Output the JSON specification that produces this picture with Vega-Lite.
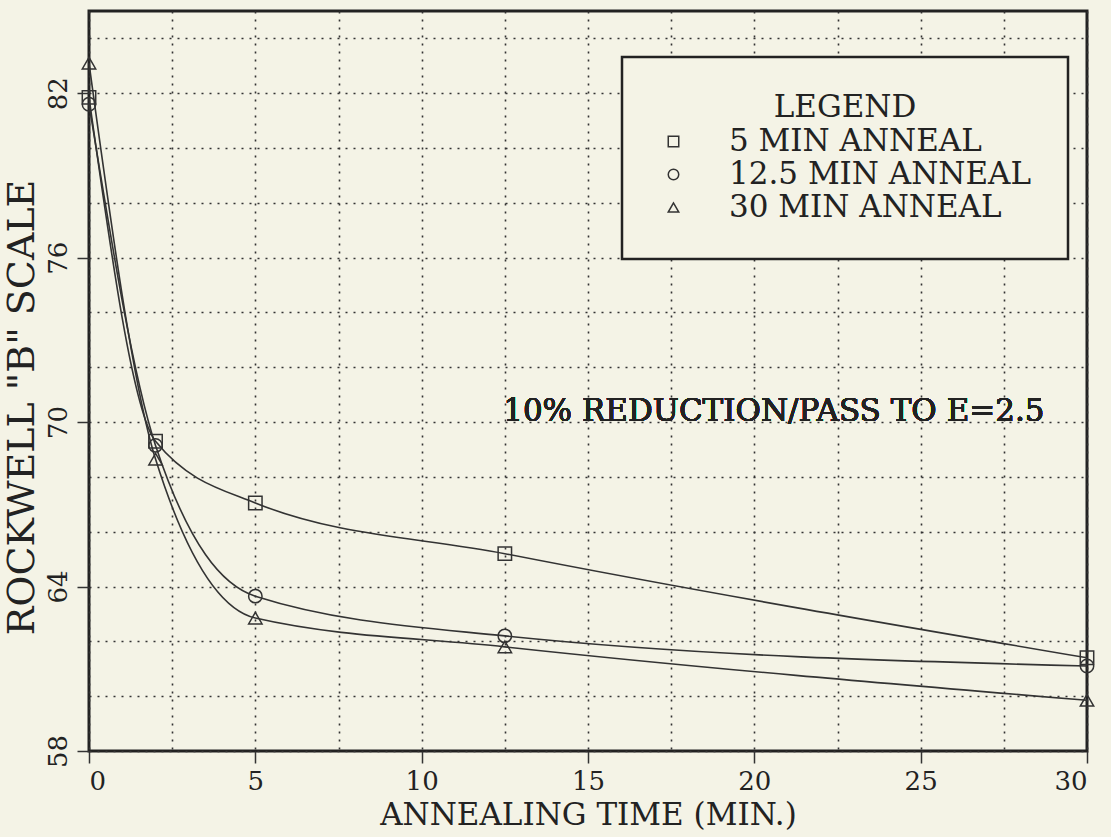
{
  "$schema": "https://vega.github.io/schema/vega-lite/v6.json",
  "width": 998,
  "height": 740,
  "autosize": "none",
  "padding": {"left": 89, "top": 11, "right": 24, "bottom": 86},
  "background": "#f4f3e6",
  "config": {
    "view": {"stroke": "#222", "strokeWidth": 3},
    "font": "DejaVu Serif",
    "axis": {
      "domain": false,
      "gridColor": "#333",
      "gridDash": [2, 6],
      "gridWidth": 1.6,
      "tickColor": "#333",
      "tickWidth": 1.5,
      "tickSize": 12,
      "labelFont": "DejaVu Serif",
      "labelColor": "#222",
      "titleFont": "DejaVu Serif",
      "titleFontWeight": "normal",
      "titleColor": "#222"
    },
    "legend": {
      "orient": "none",
      "legendX": 533,
      "legendY": 46,
      "strokeColor": "#222",
      "strokeWidth": 2.5,
      "fillColor": "#f4f3e6",
      "padding": 36,
      "titleFont": "DejaVu Serif",
      "titleFontSize": 31,
      "titleFontWeight": "normal",
      "titleColor": "#222",
      "titleAnchor": "middle",
      "titlePadding": 2,
      "labelFont": "DejaVu Serif",
      "labelFontSize": 31,
      "labelColor": "#222",
      "labelLimit": 500,
      "labelOffset": 40,
      "rowPadding": 1,
      "symbolSize": 110,
      "symbolStrokeWidth": 1.5,
      "symbolStrokeColor": "#333",
      "symbolFillColor": "transparent"
    }
  },
  "data": {
    "values": [
      {"time": 0, "hardness": 81.85, "series": "5 MIN ANNEAL"},
      {"time": 2, "hardness": 69.3, "series": "5 MIN ANNEAL"},
      {"time": 5, "hardness": 67.05, "series": "5 MIN ANNEAL"},
      {"time": 12.5, "hardness": 65.2, "series": "5 MIN ANNEAL"},
      {"time": 30, "hardness": 61.4, "series": "5 MIN ANNEAL"},
      {"time": 0, "hardness": 81.6, "series": "12.5 MIN ANNEAL"},
      {"time": 2, "hardness": 69.15, "series": "12.5 MIN ANNEAL"},
      {"time": 5, "hardness": 63.65, "series": "12.5 MIN ANNEAL"},
      {"time": 12.5, "hardness": 62.2, "series": "12.5 MIN ANNEAL"},
      {"time": 30, "hardness": 61.1, "series": "12.5 MIN ANNEAL"},
      {"time": 0, "hardness": 83.1, "series": "30 MIN ANNEAL"},
      {"time": 2, "hardness": 68.65, "series": "30 MIN ANNEAL"},
      {"time": 5, "hardness": 62.85, "series": "30 MIN ANNEAL"},
      {"time": 12.5, "hardness": 61.8, "series": "30 MIN ANNEAL"},
      {"time": 30, "hardness": 59.85, "series": "30 MIN ANNEAL"}
    ]
  },
  "encoding": {
    "x": {
      "field": "time",
      "type": "quantitative",
      "scale": {"domain": [0, 30], "nice": false, "zero": false},
      "axis": {
        "title": "ANNEALING TIME (MIN.)",
        "values": [0, 2.5, 5, 7.5, 10, 12.5, 15, 17.5, 20, 22.5, 25, 27.5, 30],
        "labelExpr": "datum.value % 5 == 0 ? datum.label : ''",
        "tickOpacity": {"condition": {"test": "datum.value % 5 == 0", "value": 1}, "value": 0},
        "labelFontSize": 26,
        "labelPadding": 5,
        "titleFontSize": 31,
        "titlePadding": 6
      }
    },
    "y": {
      "field": "hardness",
      "type": "quantitative",
      "scale": {"domain": [58, 85], "nice": false, "zero": false},
      "axis": {
        "title": "ROCKWELL \"B\" SCALE",
        "values": [58, 60, 62, 64, 66, 68, 70, 72, 74, 76, 78, 80, 82, 84],
        "labelExpr": "datum.value % 6 == 4 ? datum.label : ''",
        "tickOpacity": {"condition": {"test": "datum.value % 6 == 4", "value": 1}, "value": 0},
        "labelAngle": -90,
        "labelAlign": "center",
        "labelBaseline": "bottom",
        "labelFontSize": 26,
        "labelPadding": 6,
        "titleFontSize": 38,
        "titlePadding": 4,
        "titleY": 396
      }
    }
  },
  "layer": [
    {
      "mark": {"type": "line", "interpolate": "monotone", "color": "#333", "strokeWidth": 1.6},
      "encoding": {"detail": {"field": "series"}}
    },
    {
      "mark": {"type": "point", "filled": false, "color": "#333", "strokeWidth": 1.5, "size": 180, "opacity": 1},
      "encoding": {
        "shape": {
          "field": "series",
          "type": "nominal",
          "scale": {
            "domain": ["5 MIN ANNEAL", "12.5 MIN ANNEAL", "30 MIN ANNEAL"],
            "range": ["square", "circle", "triangle-up"]
          },
          "legend": {"title": "LEGEND"}
        }
      }
    },
    {
      "mark": {"type": "text", "text": "10% REDUCTION/PASS TO E=2.5", "font": "DejaVu Serif", "fontSize": 31, "fontWeight": "normal", "color": "#222", "align": "left", "baseline": "alphabetic", "dy": -1},
      "encoding": {"x": {"datum": 12.45}, "y": {"datum": 70}}
    }
  ]
}
